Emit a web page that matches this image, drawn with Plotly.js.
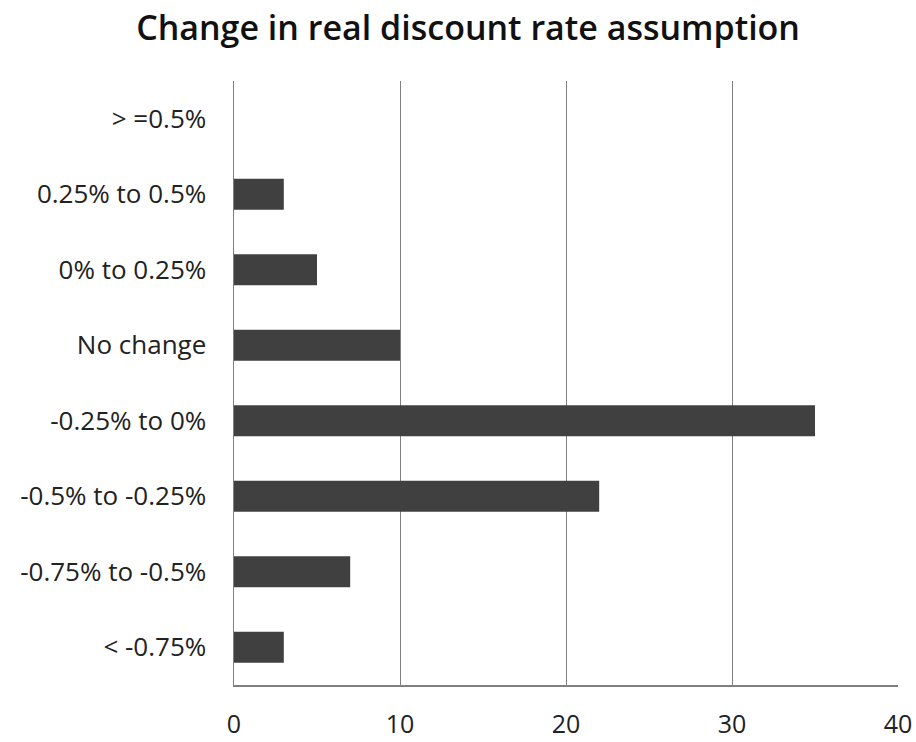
<!DOCTYPE html>
<html>
<head>
<meta charset="utf-8">
<script src="https://cdn.plot.ly/plotly-3.0.1.min.js"></script>
<style>
  html, body { margin: 0; padding: 0; background: #ffffff; }
  #chart { width: 916px; height: 742px; }
</style>
</head>
<body>
<div id="chart"></div>
<script>
// Survey responses: change in real discount rate assumption (bottom to top)
const categories = [
  "< -0.75%",
  "-0.75% to -0.5%",
  "-0.5% to -0.25%",
  "-0.25% to 0%",
  "No change",
  "0% to 0.25%",
  "0.25% to 0.5%",
  "> =0.5%"
];
const counts = [3, 7, 22, 35, 10, 5, 3, 0];
const xTicks = [0, 10, 20, 30, 40];

const fontFamily = "'Open Sans', 'Noto Sans', 'DejaVu Sans', sans-serif";

const trace = {
  type: "bar",
  orientation: "h",
  x: counts,
  y: categories,
  marker: { color: "#404040", line: { width: 0 } },
  hoverinfo: "x+y"
};

const layout = {
  width: 916,
  height: 742,
  paper_bgcolor: "#ffffff",
  plot_bgcolor: "#ffffff",
  margin: { l: 234, r: 18, t: 81, b: 57 },
  showlegend: false,
  bargap: 0.59,
  title: {
    text: "Change in real discount rate assumption",
    font: { family: fontFamily, size: 34, weight: 600, color: "#111111" },
    xref: "container",
    x: 0.511,
    xanchor: "center",
    yref: "container",
    y: 0.962,
    yanchor: "middle"
  },
  xaxis: {
    range: [0, 40],
    tickvals: xTicks,
    ticktext: xTicks.map(String),
    showgrid: true,
    gridcolor: "#7f7f7f",
    gridwidth: 1,
    zeroline: false,
    showline: true,
    linecolor: "#7f7f7f",
    linewidth: 2,
    ticks: "",
    ticklabelstandoff: 16,
    tickfont: { family: fontFamily, size: 25, color: "#222222" },
    fixedrange: true
  },
  yaxis: {
    type: "category",
    categoryorder: "array",
    categoryarray: categories,
    showgrid: false,
    zeroline: false,
    showline: true,
    linecolor: "#7f7f7f",
    linewidth: 1.5,
    ticks: "",
    ticklabelstandoff: 21,
    tickfont: { family: fontFamily, size: 26, color: "#222222" },
    fixedrange: true
  }
};

Plotly.newPlot("chart", [trace], layout, { displayModeBar: false, staticPlot: true });
</script>
</body>
</html>
